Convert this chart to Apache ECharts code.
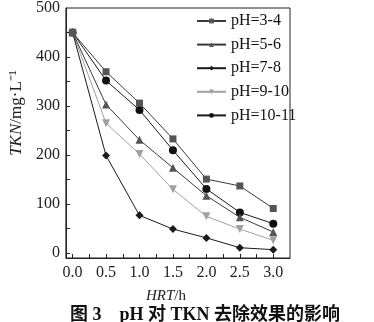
<!DOCTYPE html>
<html><head><meta charset="utf-8">
<script src="https://cdn.jsdelivr.net/npm/echarts@6/dist/echarts.min.js"></script>
<style>html,body{margin:0;padding:0;background:#fff}#c{width:374px;height:322px}</style>
</head><body><div id="c"></div>
<script>
const hrt = [0, 0.5, 1.0, 1.5, 2.0, 2.5, 3.0];
const xTickLabels = [0, 0.5, 1.0, 1.5, 2.0, 2.5, 3.0];
const xTicks = [0, 0.25, 0.5, 0.75, 1.0, 1.25, 1.5, 1.75, 2.0, 2.25, 2.5, 2.75, 3.0];
const yTickLabels = [0, 100, 200, 300, 400, 500];
const yTicks = [0, 50, 100, 150, 200, 250, 300, 350, 400, 450];
const seriesNames = ['pH=3-4', 'pH=5-6', 'pH=7-8', 'pH=9-10', 'pH=10-11'];
const ph34 = [450, 370, 306, 233, 151, 137, 91];
const ph56 = [450, 303, 231, 174, 117, 73, 43];
const ph78 = [450, 199, 77, 49, 31, 11, 7];
const ph910 = [450, 265, 202, 130, 75, 49, 26];
const ph1011 = [450, 352, 292, 210, 131, 83, 60];

const FONT = '"Liberation Serif", "Times New Roman", serif';
const values = [ph34, ph56, ph78, ph910, ph1011];
const symbols = ['rect', 'triangle', 'diamond', 'triangle', 'circle'];
const rotates = [0, 0, 0, 180, 0];
const lineColors = ['#3a3a3a', '#3a3a3a', '#1a1a1a', '#a0a0a0', '#1a1a1a'];
const symColors = ['#555555', '#555555', '#1a1a1a', '#a0a0a0', '#111111'];
const sizes = [7, 8, 8, 8, 8];

const series = seriesNames.map((n, i) => ({
  name: n, type: 'line',
  data: hrt.map((x, j) => [x, values[i][j]]),
  symbol: symbols[i], symbolRotate: rotates[i], symbolSize: sizes[i],
  showAllSymbol: true,
  lineStyle: { color: lineColors[i], width: 1 },
  itemStyle: { color: symColors[i] },
  z: 10 - i
}));

const chart = echarts.init(document.getElementById('c'), null, { renderer: 'canvas' });
chart.setOption({
  animation: false,
  backgroundColor: '#fff',
  grid: { left: 47, top: 3, width: 243, height: 255, show: true, borderColor: '#222', borderWidth: 1, backgroundColor: 'transparent' },
  title: {
    text: '图 3    pH 对 TKN 去除效果的影响',
    left: 200, top: 301, textAlign: 'center',
    textStyle: { fontFamily: FONT + ', "Noto Sans CJK SC"', fontWeight: 'bold', fontSize: 18, color: '#111' }
  },
  legend: {
    orient: 'vertical', left: 196, top: 13, padding: 0, itemWidth: 29, itemHeight: 6, itemGap: 7.6,
    data: seriesNames,
    textStyle: { fontFamily: FONT, fontSize: 16, color: '#111', padding: [0, 0, 0, 0] }
  },
  xAxis: {
    type: 'value', min: -0.1, max: 3.25,
    splitLine: { show: false },
    axisLine: { show: true, onZero: false, lineStyle: { color: '#222', width: 1 } },
    axisTick: { show: true, inside: true, length: 4, customValues: xTicks, lineStyle: { color: '#222' } },
    axisLabel: { customValues: xTickLabels, fontFamily: FONT, fontSize: 16, color: '#222', margin: 7, formatter: v => v.toFixed(1) },
    name: '{i|HRT}{n|/h}', nameLocation: 'middle', nameGap: 31,
    nameTextStyle: { padding: [0, 24, 0, 0], rich: { i: { fontFamily: FONT, fontStyle: 'italic', fontSize: 15, color: '#222' }, n: { fontFamily: FONT, fontSize: 15, color: '#222' } } }
  },
  yAxis: {
    type: 'value', min: -10, max: 500,
    splitLine: { show: false },
    axisLine: { show: true, onZero: false, lineStyle: { color: '#222', width: 1 } },
    axisTick: { show: true, inside: true, length: 4, customValues: yTicks, lineStyle: { color: '#222' } },
    axisLabel: { customValues: yTickLabels, fontFamily: FONT, fontSize: 16, color: '#222', margin: 6 },
    name: '{i|TKN}{n|/mg·L⁻¹}', nameLocation: 'middle', nameGap: 35, nameRotate: 90,
    nameTextStyle: { padding: [0, 0, 0, 40], rich: { i: { fontFamily: FONT, fontStyle: 'italic', fontSize: 17, color: '#222' }, n: { fontFamily: FONT, fontSize: 17, color: '#222' } } }
  },
  series: series
});
</script></body></html>
